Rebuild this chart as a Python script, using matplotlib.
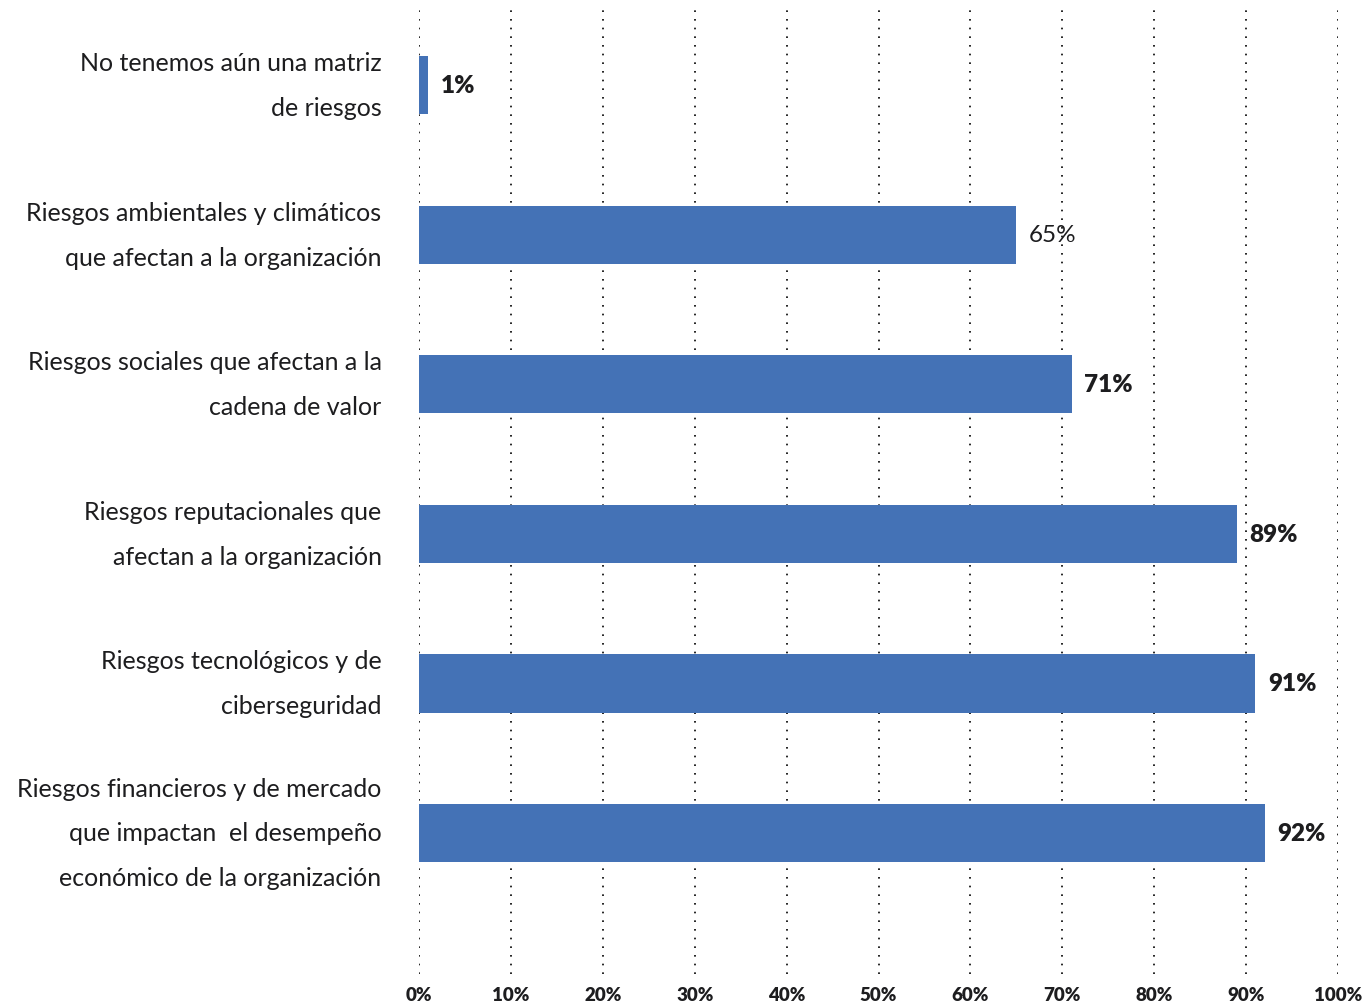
import matplotlib
matplotlib.use("Agg")
import matplotlib.pyplot as plt

# =======================
# Data
# =======================
categories = [
    "No tenemos aún una matriz\nde riesgos",
    "Riesgos ambientales y climáticos\nque afectan a la organización",
    "Riesgos sociales que afectan a la\ncadena de valor",
    "Riesgos reputacionales que\nafectan a la organización",
    "Riesgos tecnológicos y de\nciberseguridad",
    "Riesgos financieros y de mercado\nque impactan  el desempeño\neconómico de la organización",
]
values = [1, 65, 71, 89, 91, 92]
x_ticks = [0, 10, 20, 30, 40, 50, 60, 70, 80, 90, 100]
x_tick_labels = [f"{t}%" for t in x_ticks]

BAR_COLOR = "#4472B6"
TEXT_COLOR = "#1d1d1f"

plt.rcParams["font.family"] = ["Lato", "DejaVu Sans"]

# =======================
# Figure
# =======================
fig = plt.figure(figsize=(13.68, 10.04), dpi=100)
ax = fig.add_axes([0.3063, 0.0289, 0.6718, 0.961])

y = list(range(len(categories)))
ax.barh(y, values, height=0.39, color=BAR_COLOR, zorder=2)

ax.set_xlim(0, 100)
ax.set_ylim(len(categories) - 1 + 0.943, -0.508)

# dotted vertical grid
ax.set_xticks(x_ticks)
ax.set_xticklabels(x_tick_labels, fontsize=13.5, fontweight="heavy", color=TEXT_COLOR)
ax.grid(axis="x", linestyle=(0, (1, 4.2)), color="black", linewidth=1.2, zorder=0)
ax.tick_params(axis="x", length=0, pad=9)

ax.set_yticks(y)
ax.set_yticklabels(categories, fontsize=18, color=TEXT_COLOR, linespacing=2.15,
                   va="center")
ax.tick_params(axis="y", length=0, pad=27)

for spine in ax.spines.values():
    spine.set_visible(False)

# value labels
for yi, v in zip(y, values):
    weight = "normal" if v == 65 else "heavy"
    ax.annotate(f"{v}%", xy=(v, yi), xytext=(9, 0), textcoords="offset points",
                va="center", ha="left", fontsize=17.5, fontweight=weight,
                color=TEXT_COLOR)

fig.savefig("out.png", dpi=100)
plt.close(fig)
